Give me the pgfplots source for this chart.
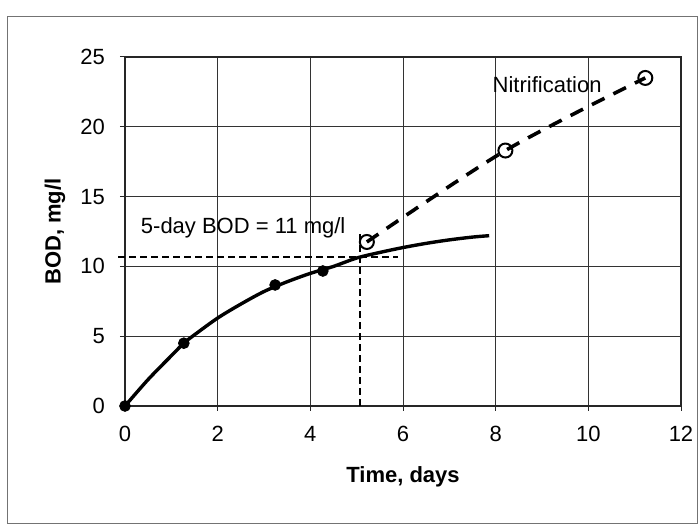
\documentclass[border=0pt]{standalone}
\usepackage{fontspec}
\setmainfont{Liberation Sans}
\usepackage{pgfplots}
\pgfplotsset{compat=1.18}
\begin{document}
\begin{tikzpicture}
\useasboundingbox (0,0) rectangle (349pt,262.5pt);
% outer chart frame
\draw[black!55, line width=0.5pt] (3.5pt,0.5pt) rectangle (348.5pt,254pt);
\begin{axis}[
    at={(62.5pt,59.5pt)}, anchor=south west,
    scale only axis, width=278pt, height=174.5pt,
    xmin=0, xmax=12, ymin=0, ymax=25,
    xtick={0,2,...,12}, ytick={0,5,...,25},
    xtick pos=left, ytick pos=left,
    grid=major,
    major grid style={black!80, line width=0.5pt},
    axis line style={black!85, line width=0.6pt},
    tick align=outside, major tick length=2.5pt,
    tick style={black!85, line width=0.5pt},
    /pgf/number format/assume math mode=true,
    ticklabel style={font=\fontsize{11}{13}\selectfont},
    xticklabel style={yshift=-4pt},
    yticklabel style={xshift=-4pt},
    xlabel={Time, days}, ylabel={BOD, mg/l},
    label style={font=\fontsize{11}{13}\selectfont\bfseries},
    xlabel style={at={(axis description cs:0.5,-0.203)}, anchor=center},
    ylabel style={at={(axis description cs:-0.126,0.5)}, anchor=center},
    clip=false,
]
% guide lines for the 5-day value
\addplot[black, line width=1pt, dash pattern=on 3.5pt off 2pt] coordinates {(-0.15,10.7) (5.9,10.7)};
\addplot[black, line width=1pt, dash pattern=on 3.5pt off 2pt] coordinates {(5.07,0) (5.07,12.4)};

% carbonaceous BOD curve
\addplot[black, line width=1.7pt, smooth] coordinates {
    (0,0) (0.5,1.9) (1,3.6) (1.27,4.5) (1.5,5.1) (2,6.3) (2.5,7.3) (3,8.2)
    (3.5,8.9) (4,9.5) (4.5,10.0) (5,10.6) (5.5,11.0) (6,11.35) (6.5,11.65)
    (7,11.9) (7.5,12.1) (7.86,12.2)
};
% measured points
\addplot[only marks, mark=*, mark size=2.7pt, black] coordinates {
    (0,0) (1.27,4.5) (3.24,8.67) (4.27,9.67)
};
% nitrification stage
\addplot[black, line width=1.8pt, dash pattern=on 7pt off 5pt, smooth,
    mark=o, mark size=3.5pt, mark options={solid, line width=1pt, fill=white}]
    coordinates {(5.22,11.75) (8.21,18.3) (11.23,23.5)};

\node[font=\fontsize{11}{13}\selectfont] at (axis cs:9.11,23.0) {Nitrification};
\node[font=\fontsize{11}{13}\selectfont] at (axis cs:2.55,12.75) {5-day BOD = 11 mg/l};
\end{axis}
\end{tikzpicture}
\end{document}
